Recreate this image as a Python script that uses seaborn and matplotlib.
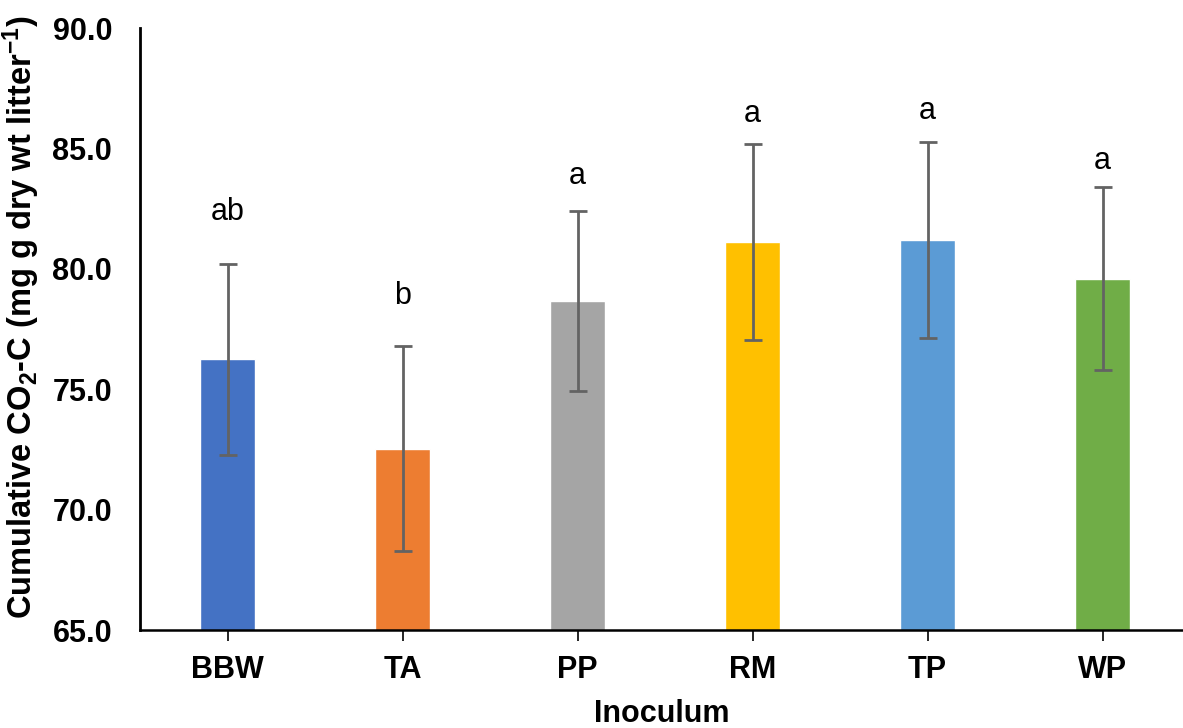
import matplotlib
matplotlib.use("Agg")
import matplotlib.pyplot as plt
import seaborn as sns
import pandas as pd

categories = ["BBW", "TA", "PP", "RM", "TP", "WP"]
means = [76.25, 72.52, 78.66, 81.11, 81.20, 79.58]
errors = [3.97, 4.26, 3.72, 4.06, 4.06, 3.80]
letters = ["ab", "b", "a", "a", "a", "a"]
letter_y = [82.03, 78.54, 83.52, 86.10, 86.22, 84.14]
colors = ["#4472C4", "#ED7D31", "#A5A5A5", "#FFC000", "#5B9BD5", "#70AD47"]
yticks = [65, 70, 75, 80, 85, 90]

sns.set_style("white")
plt.rcParams["font.family"] = ["Liberation Sans", "DejaVu Sans"]
plt.rcParams["text.color"] = "black"
plt.rcParams["axes.labelcolor"] = "black"
plt.rcParams["xtick.color"] = "black"
plt.rcParams["ytick.color"] = "black"
plt.rcParams["mathtext.fontset"] = "custom"
plt.rcParams["mathtext.rm"] = "Liberation Sans:bold"
plt.rcParams["mathtext.bf"] = "Liberation Sans:bold"
plt.rcParams["mathtext.it"] = "Liberation Sans:bold"

df = pd.DataFrame({"Inoculum": categories, "value": means})

fig = plt.figure(figsize=(11.83, 7.28), dpi=100)
W, H = 1183, 728
ax = fig.add_axes([140 / W, 1 - 630 / H, (1183 - 140) / W, (630 - 28) / H])

sns.barplot(data=df, x="Inoculum", y="value", hue="Inoculum", palette=colors,
            order=categories, width=0.31, legend=False, ax=ax, saturation=1, errorbar=None)
ax.errorbar(range(len(categories)), means, yerr=errors, fmt="none",
            ecolor="#636363", elinewidth=2, capsize=6.5, capthick=2)

for i, (t, y) in enumerate(zip(letters, letter_y)):
    ax.text(i, y, t, ha="center", va="baseline", fontsize=22, color="black")

ax.set_ylim(65, 90)
ax.set_xlim(-0.5, 5.46)
ax.set_yticks(yticks)
ax.set_yticklabels([f"{v:.1f}" for v in yticks], fontsize=22, fontweight="bold")
ax.set_xticks(range(len(categories)))
ax.set_xticklabels(categories, fontsize=22, fontweight="bold")
ax.tick_params(axis="y", length=0, pad=20)
ax.tick_params(axis="x", length=8, width=1.2, color="black", direction="out", pad=10, bottom=True)

for s in ["top", "right"]:
    ax.spines[s].set_visible(False)
ax.spines["left"].set_color("black")
ax.spines["left"].set_linewidth(2)
ax.spines["bottom"].set_color("black")
ax.spines["bottom"].set_linewidth(1.8)

ax.set_xlabel("Inoculum", fontsize=22, fontweight="bold", labelpad=10)
ax.set_ylabel(r"Cumulative CO$_{2}$-C (mg g dry wt litter$^{-1}$)", fontsize=23.5,
              fontweight="bold")
ax.yaxis.set_label_coords(-0.094, 0.52)

fig.savefig("out.png", dpi=100)
